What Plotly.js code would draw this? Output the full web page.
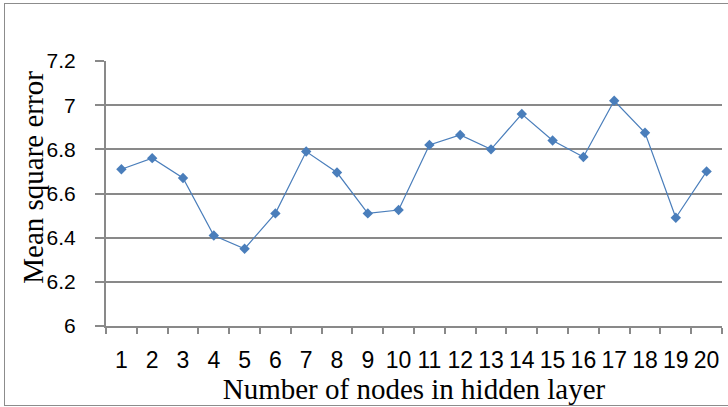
<!DOCTYPE html>
<html>
<head>
<meta charset="utf-8">
<script src="https://cdn.plot.ly/plotly-3.0.1.min.js"></script>
<style>
  body { margin: 0; background: #fff; }
  #wrap { position: relative; width: 728px; height: 407px; overflow: hidden; }
  #chart { width: 728px; height: 407px; }
  #frame { position: absolute; left: 4px; top: 3px; width: 740px; height: 401px;
           border: 1.5px solid #8c8c8c; pointer-events: none; }
</style>
</head>
<body>
<div id="wrap">
  <div id="chart"></div>
  <div id="frame"></div>
</div>
<script>
// nodes in hidden layer vs. MSE
const nodes = ['1','2','3','4','5','6','7','8','9','10','11','12','13','14','15','16','17','18','19','20'];
const mse = [6.71, 6.76, 6.67, 6.41, 6.35, 6.51, 6.79, 6.695, 6.51, 6.525,
             6.82, 6.865, 6.80, 6.96, 6.84, 6.765, 7.02, 6.875, 6.49, 6.70];

const gridGrey = '#898989';
const serif = 'Liberation Serif, Times New Roman, serif';

const trace = {
    x: nodes,
    y: mse,
    type: 'scatter',
    mode: 'lines+markers',
    line: { color: '#4a7ebb', width: 1.2 },
    marker: { symbol: 'diamond', size: 8, color: '#4a7ebb' },
    hoverinfo: 'none'
};

const layout = {
    width: 728,
    height: 407,
    margin: { l: 106, r: 6, t: 61, b: 81 },
    paper_bgcolor: '#fff',
    plot_bgcolor: '#fff',
    showlegend: false,
    font: { family: 'Liberation Sans, Arial, sans-serif', size: 21, color: '#000' },
    xaxis: {
        type: 'category',
        range: [-0.5, 19.5],
        tickson: 'boundaries',
        tickangle: 0,
        ticks: 'outside',
        ticklen: 6,
        tickwidth: 2,
        tickcolor: gridGrey,
        showline: true,
        linecolor: gridGrey,
        linewidth: 2,
        showgrid: false,
        zeroline: false,
        tickfont: { size: 23 },
        ticklabelstandoff: 12,
        title: {
            text: 'Number of nodes in hidden layer',
            font: { family: serif, size: 29, color: '#000' },
            standoff: 0
        }
    },
    yaxis: {
        range: [6, 7.2],
        dtick: 0.2,
        tick0: 6,
        ticks: 'outside',
        ticklen: 9,
        tickwidth: 2,
        tickcolor: gridGrey,
        showline: true,
        linecolor: gridGrey,
        linewidth: 2,
        showgrid: true,
        gridcolor: gridGrey,
        gridwidth: 2,
        zeroline: false,
        tickfont: { size: 21 },
        ticklabelstandoff: 15
    },
    // y title sits above centre in the original, so it is an annotation
    annotations: [{
        text: 'Mean square error',
        xref: 'paper', yref: 'paper',
        x: -0.119, y: 0.562,
        xanchor: 'center', yanchor: 'middle',
        textangle: -90,
        showarrow: false,
        font: { family: serif, size: 29, color: '#000' }
    }]
};

Plotly.newPlot('chart', [trace], layout, { staticPlot: true });
</script>
</body>
</html>
